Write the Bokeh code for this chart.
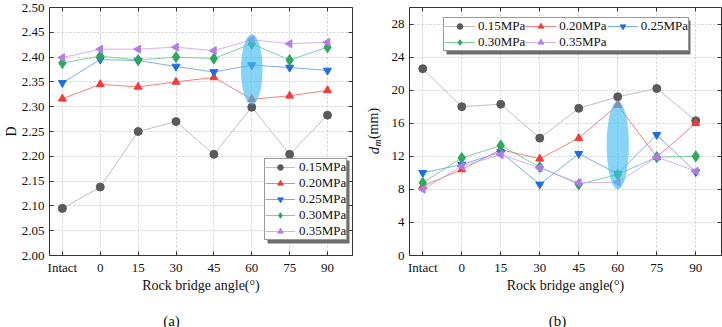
import math
from bokeh.plotting import figure
from bokeh.models import (Range1d, FixedTicker, Legend, LegendItem, Label, BoxAnnotation,
                          LinearAxis, CustomJSTickFormatter, NumeralTickFormatter, ColumnDataSource)
from bokeh.layouts import row
from bokeh.embed import file_html
from bokeh.resources import INLINE

# ---------------- data ----------------
categories = ["Intact", "0", "15", "30", "45", "60", "75", "90"]
pressures = ["0.15MPa", "0.20MPa", "0.25MPa", "0.30MPa", "0.35MPa"]

D_015 = [2.095, 2.138, 2.250, 2.270, 2.204, 2.299, 2.204, 2.283]
D_020 = [2.316, 2.345, 2.340, 2.350, 2.359, 2.315, 2.322, 2.333]
D_025 = [2.348, 2.395, 2.393, 2.381, 2.370, 2.384, 2.379, 2.373]
D_030 = [2.388, 2.402, 2.394, 2.400, 2.397, 2.427, 2.394, 2.420]
D_035 = [2.399, 2.416, 2.416, 2.420, 2.413, 2.435, 2.427, 2.430]

dm_015 = [22.6, 18.0, 18.3, 14.2, 17.8, 19.2, 20.2, 16.3]
dm_020 = [8.4, 10.4, 12.8, 11.7, 14.2, 18.2, 11.9, 16.0]
dm_025 = [10.0, 11.0, 12.5, 8.6, 12.3, 9.9, 14.6, 10.1]
dm_030 = [8.8, 11.8, 13.3, 10.7, 8.6, 9.8, 11.9, 12.0]
dm_035 = [8.0, 10.8, 12.2, 10.6, 8.8, 8.85, 11.9, 10.2]

D_ticks = [2.00, 2.05, 2.10, 2.15, 2.20, 2.25, 2.30, 2.35, 2.40, 2.45, 2.50]
dm_ticks = [0, 4, 8, 12, 16, 20, 24, 28]

highlight_category = "60"
D_highlight = [2.304, 2.446]      # vertical extent of highlighted region
dm_highlight = [8.0, 18.7]
highlight_width = 0.57            # in category units

# ---------------- style ----------------
FONT = "Liberation Serif"
marker_colors = ["#5a5a5a", "#f23b3b", "#1f6fe0", "#2ea75f", "#b57ce9"]
line_colors = ["#b4b4b4", "#f46a6a", "#6a9fec", "#6cc592", "#cba3f1"]
markers = ["circle", "triangle", "inverted_triangle", "diamond", "triangle"]
angles = [0, 0, 0, 0, math.pi / 2]
sizes = [8, 8, 8, 11, 8]
AX = "#333333"

xs = list(range(len(categories)))
X0, X1 = -0.34, 7.66


def blank_axis(p, ticker, side):
    ax = LinearAxis(ticker=ticker, formatter=CustomJSTickFormatter(code="return ''"),
                    major_tick_in=4, major_tick_out=0, minor_tick_line_color=None,
                    major_label_standoff=0, axis_line_color=AX, major_tick_line_color=AX)
    p.add_layout(ax, side)


def panel(series, y0, y1, yticks, yfmt, width, height, borders, hl, ylabel):
    left, right, top, bottom = borders
    p = figure(width=width, height=height, x_range=Range1d(X0, X1), y_range=Range1d(y0, y1),
               output_backend="svg", toolbar_location=None,
               min_border_left=left, min_border_right=right,
               min_border_top=top, min_border_bottom=bottom)
    p.outline_line_color = None
    p.background_fill_color = "white"

    xt = FixedTicker(ticks=xs)
    yt = FixedTicker(ticks=yticks)
    p.xaxis.ticker = xt
    p.xaxis.major_label_overrides = {i: c for i, c in enumerate(categories)}
    p.yaxis.ticker = yt
    if yfmt:
        p.yaxis.formatter = NumeralTickFormatter(format=yfmt)
    for ax in (p.xaxis, p.yaxis):
        ax.major_tick_in = 4
        ax.major_tick_out = 0
        ax.minor_tick_line_color = None
        ax.axis_line_color = AX
        ax.major_tick_line_color = AX
        ax.major_label_text_font = FONT
        ax.major_label_text_font_size = "13px"
        ax.major_label_text_color = "#111111"
        ax.axis_label_text_font = FONT
        ax.axis_label_text_font_style = "normal"
        ax.axis_label_text_color = "#111111"
    p.xaxis.major_label_standoff = 4
    p.xaxis.axis_label = "Rock bridge angle(°)"
    p.xaxis.axis_label_text_font_size = "14px"
    p.xaxis.axis_label_standoff = 0
    p.yaxis.major_label_standoff = 5
    if ylabel:
        p.yaxis.axis_label = ylabel
        p.yaxis.axis_label_text_font_size = "14px"
        p.yaxis.axis_label_standoff = 0
    blank_axis(p, yt, "right")
    blank_axis(p, xt, "above")

    for g in (p.xgrid, p.ygrid):
        g.grid_line_color = "#cfcfcf"
        g.grid_line_dash = "2 2"
        g.grid_line_width = 1
    p.xgrid.ticker = xt
    p.ygrid.ticker = yt

    items = []
    for i, vals in enumerate(series):
        src = ColumnDataSource(dict(x=xs, y=vals))
        ln = p.line("x", "y", source=src, line_color=line_colors[i], line_width=1, line_alpha=0.85)
        sc = p.scatter("x", "y", source=src, marker=markers[i], size=sizes[i], angle=angles[i],
                       fill_color=marker_colors[i], line_color=marker_colors[i])
        items.append(LegendItem(label=pressures[i], renderers=[ln, sc]))

    hx = categories.index(highlight_category)
    p.ellipse(x=[hx], y=[(hl[0] + hl[1]) / 2], width=[highlight_width], height=[hl[1] - hl[0]],
              fill_color="#45bff2", fill_alpha=0.65, line_color=None)
    return p, items


def style_legend(lg):
    lg.label_text_font = FONT
    lg.label_text_font_size = "13px"
    lg.label_text_color = "#111111"
    lg.border_line_color = AX
    lg.border_line_width = 1
    lg.background_fill_color = "white"
    lg.background_fill_alpha = 1
    lg.glyph_width = 30
    lg.glyph_height = 14
    lg.label_height = 14
    lg.padding = 0
    lg.margin = 0


def shadow(p, l, r, b, t):
    p.add_layout(BoxAnnotation(left=l, right=r, bottom=b, top=t,
                               left_units="screen", right_units="screen",
                               bottom_units="screen", top_units="screen",
                               fill_color="#6e6e6e", fill_alpha=1, line_color=None))


def text_label(p, side, x, y, dx, dy, txt, size, style="normal", angle=0.0):
    p.add_layout(Label(x=x, y=y, x_offset=dx, y_offset=dy, text=txt, angle=angle,
                       text_align="center", text_baseline="middle", text_font=FONT,
                       text_font_size=size, text_font_style=style, text_color="#111111"), side)


BORDER_TOP, BORDER_BOTTOM = 7, 72

# ---------- left panel (a) ----------
pa, items_a = panel([D_015, D_020, D_025, D_030, D_035], 2.0, 2.5, D_ticks, "0.00",
                    361, 327, (42, 9, BORDER_TOP, BORDER_BOTTOM), D_highlight, "D")
shadow(pa, 218, 300, 12, 95)
lga = Legend(items=items_a, location=(215, 15), orientation="vertical")
style_legend(lga)
lga.spacing = 0
lga.label_standoff = 4
pa.add_layout(lga)
text_label(pa, "below", X0, 2.0, 122, -65, "(a)", "15px")

# ---------- right panel (b) ----------
pb, items_b = panel([dm_015, dm_020, dm_025, dm_030, dm_035], 0, 30, dm_ticks, None,
                    361, 327, (48, 1, BORDER_TOP, BORDER_BOTTOM), dm_highlight, None)
shadow(pb, 37, 281, 201, 235)
lgb = Legend(items=items_b, location=(34, 204), orientation="horizontal", ncols=3)
style_legend(lgb)
lgb.spacing = 0
lgb.glyph_width = 31
lgb.label_standoff = 3
pb.add_layout(lgb)

# y-axis title d_m(mm), composed of three rotated texts
text_label(pb, "left", X0, 15, -36, 8, "(mm)", "14px", "normal", math.pi / 2)
text_label(pb, "left", X0, 15, -32, -11.5, "m", "10px", "italic", math.pi / 2)
text_label(pb, "below", X0, 15, -36, -19, "d", "15px", "italic", math.pi / 2)
text_label(pb, "below", X0, 0, 148, -65, "(b)", "15px")

layout = row(pa, pb)
open("out.html", "w").write(file_html(layout, INLINE))
